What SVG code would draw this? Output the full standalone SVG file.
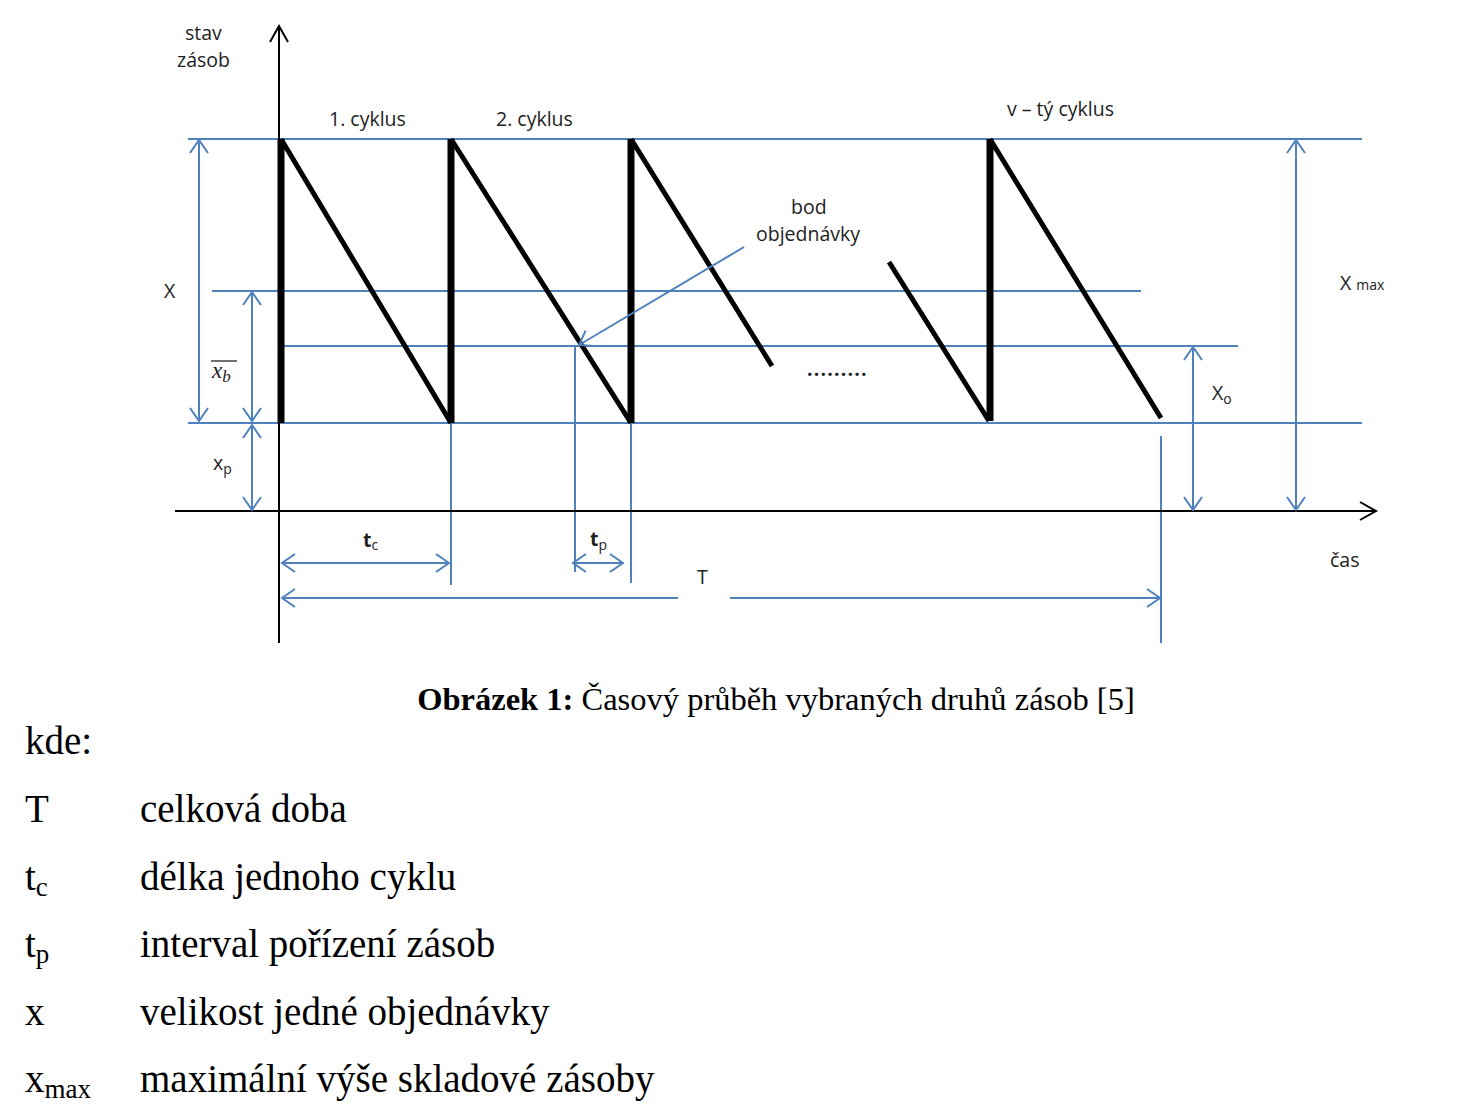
<svg xmlns="http://www.w3.org/2000/svg" width="1484" height="1118" viewBox="0 0 1484 1118">
<style>
.b{stroke:#4f81bd;stroke-width:2;fill:none}
.ba{stroke:#4f81bd;stroke-width:2;fill:none;marker-end:url(#ab);marker-start:url(#ab)}
.be{stroke:#4f81bd;stroke-width:2;fill:none;marker-end:url(#ab)}
.bs{stroke:#4f81bd;stroke-width:2;fill:none;marker-start:url(#ab)}
.ax{stroke:#000;stroke-width:2;fill:none}
.v{stroke:#000;stroke-width:7;fill:none;stroke-linecap:butt}
.d{stroke:#000;stroke-width:5;fill:none;stroke-linecap:butt}
.l{font-family:"Open Sans","Liberation Sans",sans-serif;font-size:19.5px;fill:#222}
.s{font-size:14px}
.t{font-family:"Liberation Serif","Times New Roman",serif;font-size:39px;fill:#000}
.c{font-family:"Liberation Serif","Times New Roman",serif;font-size:32.5px;fill:#000}
</style>
<defs>
<marker id="ab" markerUnits="userSpaceOnUse" viewBox="-15 -11 17 22" refX="0" refY="0" markerWidth="17" markerHeight="22" orient="auto-start-reverse" overflow="visible">
<path d="M-13,-9 L0,0 L-13,9" stroke="#4f81bd" stroke-width="2" fill="none"/>
</marker>
<marker id="ak" markerUnits="userSpaceOnUse" viewBox="-18 -11 20 22" refX="0" refY="0" markerWidth="20" markerHeight="22" orient="auto" overflow="visible">
<path d="M-16,-9 L0,0 L-16,9" stroke="#000" stroke-width="2" fill="none"/>
</marker>
</defs>
<rect width="1484" height="1118" fill="#fff"/>

<g id="grid-lines">
<line class="b" x1="188" y1="139" x2="1362" y2="139"/>
<line class="b" x1="212" y1="291" x2="1141" y2="291"/>
<line class="b" x1="282" y1="346" x2="1238" y2="346"/>
<line class="b" x1="188" y1="423" x2="1362" y2="423"/>
<line class="b" x1="451" y1="423" x2="451" y2="585"/>
<line class="b" x1="575" y1="346" x2="575" y2="572"/>
<line class="b" x1="631" y1="423" x2="631" y2="583"/>
<line class="b" x1="1161" y1="436" x2="1161" y2="643"/>
</g>

<g id="axes">
<line class="ax" x1="279" y1="643" x2="279" y2="26" marker-end="url(#ak)"/>
<line class="ax" x1="175" y1="511" x2="1376" y2="511" marker-end="url(#ak)"/>
</g>

<g id="sawtooth">
<line class="v" x1="281" y1="139" x2="281" y2="423"/>
<line class="d" x1="281" y1="139" x2="451" y2="423"/>
<line class="v" x1="451" y1="423" x2="451" y2="139"/>
<line class="d" x1="451" y1="139" x2="631" y2="423"/>
<line class="v" x1="631" y1="423" x2="631" y2="139"/>
<line class="d" x1="631" y1="139" x2="772" y2="366"/>
<line class="d" x1="889" y1="262" x2="989" y2="421"/>
<line class="v" x1="990" y1="421" x2="990" y2="139"/>
<line class="d" x1="990" y1="139" x2="1161" y2="418"/>
</g>

<g id="connectors">
<line class="ba" x1="199" y1="140" x2="199" y2="421"/>
<line class="ba" x1="252" y1="292" x2="252" y2="421"/>
<line class="ba" x1="252" y1="425" x2="252" y2="510"/>
<line class="ba" x1="1193" y1="347" x2="1193" y2="510"/>
<line class="ba" x1="1296" y1="140" x2="1296" y2="510"/>
<line class="ba" x1="282" y1="563" x2="449" y2="563"/>
<line class="ba" x1="573" y1="563" x2="623" y2="563"/>
<line class="bs" x1="282" y1="598" x2="678" y2="598"/>
<line class="be" x1="730" y1="598" x2="1160" y2="598"/>
<line class="be" x1="744" y1="247" x2="579" y2="345"/>
</g>

<g id="labels">
<text class="l" x="185" y="40">stav</text>
<text class="l" x="177" y="67">zásob</text>
<text class="l" x="329" y="126">1. cyklus</text>
<text class="l" x="496" y="126">2. cyklus</text>
<text class="l" x="1007" y="116">v – tý cyklus</text>
<text class="l" x="791" y="214">bod</text>
<text class="l" x="756" y="241">objednávky</text>
<text class="l" x="164" y="298">X</text>
<text x="212" y="378" font-family="'Liberation Serif',serif" font-style="italic" font-size="23" fill="#222">x<tspan font-size="17" dy="4">b</tspan></text>
<line x1="211" y1="361" x2="237" y2="361" stroke="#222" stroke-width="1.3"/>
<text class="l" x="213" y="470">x<tspan class="s" dy="4">p</tspan></text>
<text class="l" x="1340" y="290">X <tspan class="s">max</tspan></text>
<text class="l" x="1212" y="400">X<tspan class="s" dy="4">o</tspan></text>
<text class="l" x="363" y="547" font-weight="bold">t<tspan class="s" font-weight="normal" dy="3">c</tspan></text>
<text class="l" x="590" y="546" font-weight="bold">t<tspan class="s" font-weight="normal" dy="4">p</tspan></text>
<text class="l" x="697" y="584">T</text>
<text class="l" x="1330" y="567">čas</text>
<text class="l" x="807" y="376" font-weight="bold" font-size="21" letter-spacing="1.2">.........</text>
</g>

<g id="caption">
<text class="c" x="776" y="710" text-anchor="middle"><tspan font-weight="bold">Obrázek 1:</tspan> Časový průběh vybraných druhů zásob [5]</text>
</g>

<g id="legend">
<text class="t" x="25" y="754">kde:</text>
<text class="t" x="25" y="822">T</text>
<text class="t" x="140" y="822">celková doba</text>
<text class="t" x="25" y="890">t<tspan font-size="27" dy="6">c</tspan></text>
<text class="t" x="140" y="890">délka jednoho cyklu</text>
<text class="t" x="25" y="957">t<tspan font-size="27" dy="6">p</tspan></text>
<text class="t" x="140" y="957">interval pořízení zásob</text>
<text class="t" x="25" y="1025">x</text>
<text class="t" x="140" y="1025">velikost jedné objednávky</text>
<text class="t" x="25" y="1092">x<tspan font-size="27" dy="6">max</tspan></text>
<text class="t" x="140" y="1092">maximální výše skladové zásoby</text>
</g>
</svg>
